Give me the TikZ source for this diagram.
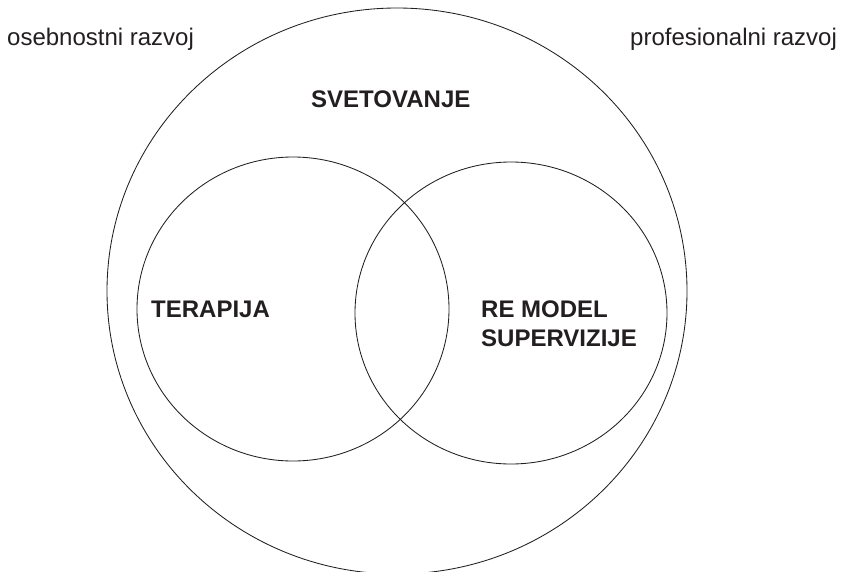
\documentclass[tikz,border=0pt]{standalone}
\usepackage{fontspec}
\setmainfont{Liberation Sans}
\definecolor{ink}{HTML}{231F20}
\begin{document}
\begin{tikzpicture}[x=1pt,y=-1pt,
   lbl/.style={anchor=base west,inner sep=0pt,text=ink,
      font=\fontsize{24}{29}\selectfont},
   bold lbl/.style={lbl,font=\fontsize{24}{29}\selectfont\bfseries}]
   \useasboundingbox (0,0) rectangle (841,571);

   \draw[color=ink,line width=0.85pt] (397,291) ellipse (290 and 283);
   \draw[color=ink,line width=0.85pt] (293,309) ellipse (156 and 152);
   \draw[color=ink,line width=0.85pt] (511,313) ellipse (156 and 151);

   \node[lbl] (osebni) at (7,45) {osebnostni razvoj};
   \node[lbl] (profes) at (630,45) {profesionalni razvoj};
   \node[bold lbl] (svetov) at (311,107) {SVETOVANJE};
   \node[bold lbl] (terapija) at (151,317) {TERAPIJA};
   \node[bold lbl] (remodel) at (481,317) {RE MODEL};
   \node[bold lbl] (superv) at ([yshift=-29pt]remodel.base west) {SUPERVIZIJE};

 \end{tikzpicture}
\end{document}
